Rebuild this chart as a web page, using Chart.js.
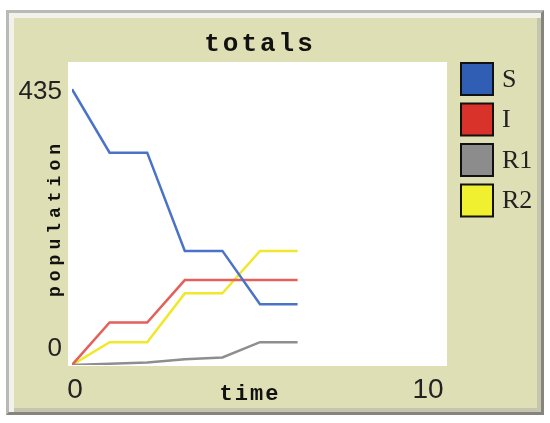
<!DOCTYPE html>
<html>
<head>
<meta charset="utf-8">
<script src="https://cdn.jsdelivr.net/npm/chart.js"></script>
<style>
  body { margin: 0; background: #fff; width: 550px; height: 423px; overflow: hidden; position: relative; }
  .frame {
    position: absolute; left: 6px; top: 10px; width: 538px; height: 405px; box-sizing: border-box;
    background: #dfdfb5;
    border: 3px solid; border-color: #b9b9b9 #85857d #85857d #b9b9b9;
    box-shadow: inset 5px 5px 0 #f2f2ea, inset -4px -4px 0 #c6c6b0;
  }
  #totalsChart { position: absolute; left: 0; top: 0; }
</style>
</head>
<body>
<div class="frame"></div>
<canvas id="totalsChart" width="550" height="423"></canvas>
<script>
// Plot data
const times = [0, 1, 2, 3, 4, 5, 6];
const susceptible = [435, 335, 335, 180, 180, 96, 96];
const infected = [0, 67, 67, 134, 134, 134, 134];
const recovered1 = [0, 2, 4, 9, 12, 36, 36];
const recovered2 = [0, 36, 36, 113, 113, 180, 180];
const seriesNames = ['S', 'I', 'R1', 'R2'];
const xTickLabels = [0, 10];
const yTickLabels = [0, 435];

const lineColors = ['#4a72c6', '#e4605a', '#8e8e8e', '#f0e82a'];
const swatchColors = ['#2f5eb4', '#d8322a', '#8c8c8c', '#f0f030'];

const toPoints = values => values.map((v, i) => ({ x: times[i], y: v }));

// White plot area, labels and legend drawn NetLogo style
const netlogoPlot = {
    id: 'netlogoPlot',
    beforeDatasetsDraw(chart) {
        const { ctx, chartArea } = chart;
        ctx.save();
        ctx.fillStyle = '#fff';
        ctx.fillRect(chartArea.left - 4, chartArea.top, chartArea.right - chartArea.left + 3, chartArea.bottom - chartArea.top + 1);
        ctx.restore();
    },
    afterDraw(chart) {
        const { ctx } = chart;
        const xs = chart.scales.x;
        const ys = chart.scales.y;
        ctx.save();
        ctx.fillStyle = '#111';

        // title
        ctx.font = 'bold 26px "Liberation Mono"';
        ctx.letterSpacing = '3px';
        ctx.textAlign = 'center';
        ctx.textBaseline = 'middle';
        ctx.fillText('totals', 260, 44);

        // axis titles
        ctx.font = 'bold 22px "Liberation Mono"';
        ctx.letterSpacing = '2px';
        ctx.fillText('time', 250, 394);

        ctx.save();
        ctx.translate(55, 218);
        ctx.rotate(-Math.PI / 2);
        ctx.font = 'bold 18px "Liberation Mono"';
        ctx.letterSpacing = '5px';
        ctx.fillText('population', 0, 0);
        ctx.restore();

        // tick labels
        ctx.letterSpacing = '0px';
        ctx.fillStyle = '#222';
        ctx.font = '26px "Liberation Sans"';
        ctx.textAlign = 'right';
        ctx.fillText(String(yTickLabels[1]), 62, ys.getPixelForValue(yTickLabels[1]) + 3);
        ctx.fillText(String(yTickLabels[0]), 62, ys.getPixelForValue(yTickLabels[0]) - 16);

        ctx.font = '28px "Liberation Sans"';
        ctx.textAlign = 'center';
        ctx.fillText(String(xTickLabels[0]), xs.getPixelForValue(xTickLabels[0]) + 3, 390);
        ctx.fillText(String(xTickLabels[1]), xs.getPixelForValue(xTickLabels[1]) - 20, 390);

        // legend
        ctx.textAlign = 'left';
        ctx.font = '26px "Liberation Serif"';
        seriesNames.forEach((name, i) => {
            const top = 62 + i * 40.5;
            ctx.fillStyle = '#111';
            ctx.fillRect(460, top, 34, 34);
            ctx.fillStyle = swatchColors[i];
            ctx.fillRect(462, top + 2, 30, 30);
            ctx.fillStyle = '#222';
            ctx.fillText(name, 502, top + 18);
        });
        ctx.restore();
    }
};

const datasets = [susceptible, infected, recovered1, recovered2].map((values, i) => ({
    label: seriesNames[i],
    data: toPoints(values),
    borderColor: lineColors[i],
    borderWidth: 2.5,
    pointRadius: 0,
    tension: 0,
    fill: false
}));

const ctx = document.getElementById('totalsChart').getContext('2d');

new Chart(ctx, {
    type: 'line',
    data: { datasets: datasets },
    options: {
        responsive: false,
        animation: false,
        layout: { padding: { left: 72, right: 102, top: 62, bottom: 58 } },
        scales: {
            x: { type: 'linear', min: 0, max: 10, display: false },
            y: { type: 'linear', min: 0, max: 478, display: false }
        },
        plugins: {
            legend: { display: false },
            title: { display: false },
            tooltip: { enabled: false }
        }
    },
    plugins: [netlogoPlot]
});
</script>
</body>
</html>
